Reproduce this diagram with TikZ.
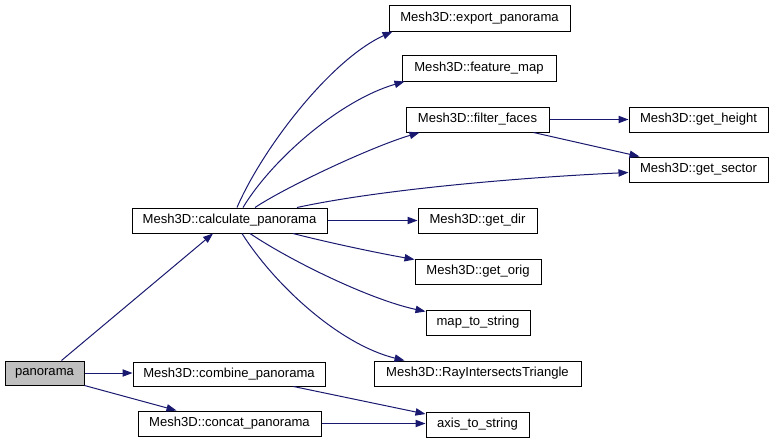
\documentclass[tikz,border=0pt]{standalone}
\usepackage{fontspec}
\setmainfont{Liberation Sans}
\usetikzlibrary{arrows.meta,calc}
\definecolor{edgeblue}{HTML}{191970}
\definecolor{curfill}{HTML}{BFBFBF}
\begin{document}
\begin{tikzpicture}[x=0.75pt,y=-0.75pt,
  fn/.style={draw=black, line width=0.75pt, inner sep=0pt, fill=white,
    font=\fontsize{9.8}{12}\selectfont},
  cur/.style={fn, fill=curfill},
  sz/.style 2 args={minimum width=#1*0.75pt, minimum height=#2*0.75pt},
  edge/.style={draw=edgeblue, line width=0.75pt,
    -{Triangle[length=7.5pt,width=5.5pt]}}]
\useasboundingbox (0,0) rectangle (775,443);

\node[cur, sz={79}{24}] (pan) at (44.5,373) {panorama};
\node[fn, sz={192}{24}] (comb) at (229,374) {Mesh3D::combine\_panorama};
\node[fn, sz={183}{25}] (concat) at (229.5,423.5) {Mesh3D::concat\_panorama};
\node[fn, sz={195}{25}] (calc) at (229.5,220.5) {Mesh3D::calculate\_panorama};
\node[fn, sz={181}{26}] (export) at (479.5,18) {Mesh3D::export\_panorama};
\node[fn, sz={154}{26}] (feature) at (479,68) {Mesh3D::feature\_map};
\node[fn, sz={143}{25}] (filter) at (477.5,119.5) {Mesh3D::filter\_faces};
\node[fn, sz={139}{25}] (height) at (698.5,119.5) {Mesh3D::get\_height};
\node[fn, sz={139}{25}] (sector) at (698.5,169.5) {Mesh3D::get\_sector};
\node[fn, sz={119}{25}] (dir) at (477.5,220.5) {Mesh3D::get\_dir};
\node[fn, sz={126}{25}] (orig) at (478,271.5) {Mesh3D::get\_orig};
\node[fn, sz={104}{25}] (map) at (478,322.5) {map\_to\_string};
\node[fn, sz={207}{25}] (ray) at (477.5,373.5) {Mesh3D::RayIntersectsTriangle};
\node[fn, sz={103}{25}] (axis) at (477.5,424.5) {axis\_to\_string};

% from panorama
\draw[edge] ($(pan.north)+(17,0)$) -- ($(calc.south)+(-16.5,0)$);
\draw[edge] (pan.east) -- (pan.east -| comb.west);
\draw[edge] (pan.south east) -- ($(concat.north west)+(39,0)$);

% from calculate_panorama
\draw[edge] ($(calc.north)+(7.5,0)$) .. controls +(25,-58) and +(-63,29) .. ($(export.south west)+(4,0)$);
\draw[edge] ($(calc.north)+(13.5,0)$) .. controls +(29,-48) and +(-65,19) .. ($(feature.south west)+(3,0)$);
\draw[edge] ($(calc.north)+(25.5,0)$) .. controls +(30,-20) and +(-50,15) .. ($(filter.south west)+(14,0)$);
\draw[edge] ($(calc.north)+(67.5,0)$) .. controls +(83,-18) and +(-109,5) .. ($(sector.west)+(0,3)$);
\draw[edge] (calc.east) -- (dir.west);
\draw[edge] ($(calc.south)+(63.5,0)$) .. controls +(27,7) and +(-45,-8) .. ($(orig.north west)+(0,1)$);
\draw[edge] ($(calc.south)+(20.5,0)$) .. controls +(40,27) and +(-56,-12) .. ($(map.north west)+(0,2)$);
\draw[edge] ($(calc.south)+(12.5,0)$) .. controls +(33,52) and +(-65,-16) .. ($(ray.north west)+(31,0)$);

% from filter_faces
\draw[edge] (filter.east) -- (height.west);
\draw[edge] ($(filter.south east)+(-16,0)$) -- ($(sector.north west)+(11,0)$);

% to axis_to_string
\draw[edge] ($(comb.south east)+(-32,0)$) -- ($(axis.west)+(0,-10.5)$);
\draw[edge] (concat.east) -- (concat.east -| axis.west);
\end{tikzpicture}
\end{document}
